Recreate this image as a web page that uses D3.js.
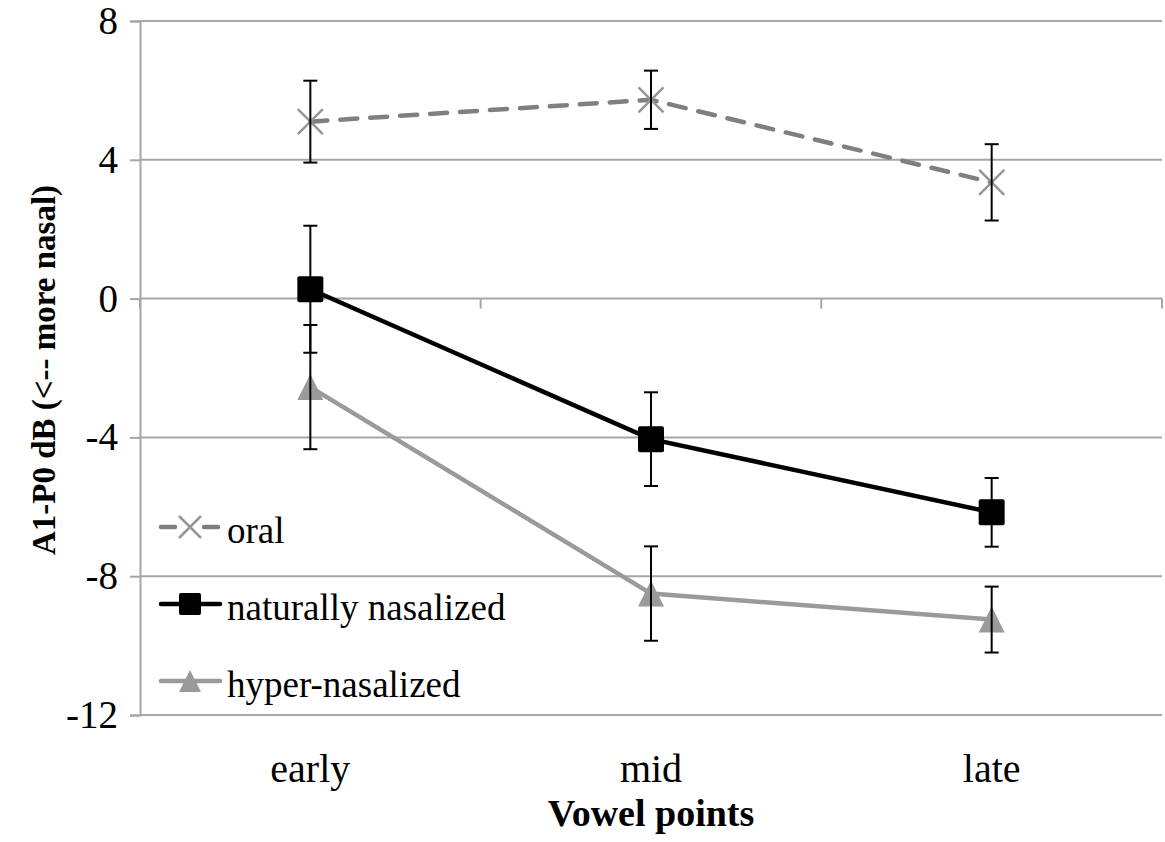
<!DOCTYPE html>
<html>
<head>
<meta charset="utf-8">
<script src="https://cdn.jsdelivr.net/npm/d3@7/dist/d3.min.js"></script>
<style>
  html, body { margin: 0; padding: 0; background: #fff; }
</style>
</head>
<body>
<svg id="chart" width="1165" height="842"></svg>
<script>
// Vowel time points along the x axis
const categories = ["early", "mid", "late"];

// Mean A1-P0 (dB) and error-bar half widths per series
const oralMeans = [5.1, 5.73, 3.35];
const oralErr = [1.18, 0.84, 1.1];
const naturalMeans = [0.27, -4.05, -6.16];
const naturalErr = [1.83, 1.35, 0.99];
const hyperMeans = [-2.55, -8.5, -9.25];
const hyperErr = [1.79, 1.36, 0.95];

const yTicks = [-12, -8, -4, 0, 4, 8];
const seriesNames = ["oral", "naturally nasalized", "hyper-nasalized"];

const series = [
  { name: seriesNames[0], means: oralMeans, err: oralErr, color: "#7f7f7f", markColor: "#969696", dash: "17,13", marker: "x" },
  { name: seriesNames[1], means: naturalMeans, err: naturalErr, color: "#000000", markColor: "#000000", dash: null, marker: "square" },
  { name: seriesNames[2], means: hyperMeans, err: hyperErr, color: "#9a9a9a", markColor: "#9a9a9a", dash: null, marker: "triangle" }
];

// Pick the first installed Times-like face
function pickFont(candidates) {
  const ctx = document.createElement("canvas").getContext("2d");
  const sample = "naturally nasalized WMiql 0123";
  const widthOf = f => { ctx.font = `40px ${f}`; return ctx.measureText(sample).width; };
  const baseMono = widthOf("monospace");
  for (const c of candidates) {
    if (Math.abs(widthOf(`'${c}', monospace`) - baseMono) > 0.5) return `'${c}'`;
  }
  return "serif";
}
const serif = pickFont(["Liberation Serif", "Times New Roman", "Tinos", "Nimbus Roman", "Nimbus Roman No9 L",
  "FreeSerif", "Noto Serif", "DejaVu Serif", "Georgia", "Liberation Sans Narrow"]);

const svg = d3.select("#chart").attr("font-family", serif);
const plotLeft = 140, plotRight = 1162, plotTop = 21, plotBottom = 715;
const gridColor = "#a6a6a6";

const x = d3.scaleBand().domain(categories).range([plotLeft, plotRight]);
const y = d3.scaleLinear().domain([-12, 8]).range([plotBottom, plotTop]);
const cx = c => x(c) + x.bandwidth() / 2;

// Horizontal gridlines
svg.append("g").selectAll("line").data(yTicks).join("line")
  .attr("x1", plotLeft).attr("x2", plotRight)
  .attr("y1", d => y(d)).attr("y2", d => y(d))
  .attr("stroke", gridColor).attr("stroke-width", 2);

// Vertical axis with outer ticks and labels
const yAxis = svg.append("g").attr("transform", `translate(${plotLeft},0)`)
  .call(d3.axisLeft(y).tickValues(yTicks).tickSize(10).tickPadding(12))
  .attr("font-family", serif);
yAxis.select(".domain").attr("stroke", gridColor).attr("stroke-width", 2);
yAxis.selectAll(".tick line").attr("stroke", gridColor).attr("stroke-width", 2);
yAxis.selectAll(".tick text").attr("font-size", 39).attr("fill", "#000")
  .text(d => d < 0 ? "-" + Math.abs(d) : String(d));

// Category axis crossing at zero, ticks between categories
const boundaries = categories.map(c => x(c)).concat([x(categories[categories.length - 1]) + x.bandwidth()]);
svg.append("g").selectAll("line").data(boundaries).join("line")
  .attr("x1", d => d).attr("x2", d => d)
  .attr("y1", y(0)).attr("y2", y(0) + 10)
  .attr("stroke", gridColor).attr("stroke-width", 2);

// Category labels below the plot
svg.append("g").selectAll("text").data(categories).join("text")
  .attr("x", d => cx(d)).attr("y", 782)
  .attr("text-anchor", "middle").attr("font-size", 40).text(d => d);

// Axis titles
svg.append("text").attr("x", (plotLeft + plotRight) / 2).attr("y", 826)
  .attr("text-anchor", "middle").attr("font-size", 38).attr("font-weight", "bold")
  .text("Vowel points");
svg.append("text")
  .attr("transform", `translate(55,${(plotTop + plotBottom) / 2 + 2}) rotate(-90)`)
  .attr("text-anchor", "middle").attr("font-size", 33).attr("font-weight", "bold")
  .text("A1-P0 dB (<-- more nasal)");

// Marker drawing helper
function drawMarker(g, type, color, size) {
  const h = size / 2;
  if (type === "square") {
    g.append("rect").attr("x", -h).attr("y", -h).attr("width", size).attr("height", size)
      .attr("fill", color).attr("rx", 2);
  } else if (type === "triangle") {
    g.append("path").attr("d", `M0,${-h} L${h},${h} L${-h},${h} Z`).attr("fill", color);
  } else {
    g.append("path").attr("d", `M${-h},${-h} L${h},${h} M${h},${-h} L${-h},${h}`)
      .attr("stroke", color).attr("stroke-width", 2.5).attr("fill", "none");
  }
}

const line = d3.line().x((d, i) => cx(categories[i])).y(d => y(d));

series.forEach(s => {
  const g = svg.append("g");
  // connecting line
  g.append("path").datum(s.means).attr("d", line)
    .attr("fill", "none").attr("stroke", s.color).attr("stroke-width", 4.5)
    .attr("stroke-dasharray", s.dash).attr("stroke-linecap", "round");
  // markers
  s.means.forEach((v, i) => {
    const m = g.append("g").attr("transform", `translate(${cx(categories[i])},${y(v)})`);
    drawMarker(m, s.marker, s.markColor, s.marker === "x" ? 25 : 26);
  });
});

// Error bars drawn over the markers
series.forEach(s => {
  const g = svg.append("g");
  s.means.forEach((v, i) => {
    const px = cx(categories[i]);
    const hi = y(v + s.err[i]), lo = y(v - s.err[i]);
    g.append("line").attr("x1", px).attr("x2", px).attr("y1", hi).attr("y2", lo)
      .attr("stroke", "#000").attr("stroke-width", 2);
    [hi, lo].forEach(yy => g.append("line").attr("x1", px - 7).attr("x2", px + 7)
      .attr("y1", yy).attr("y2", yy).attr("stroke", "#000").attr("stroke-width", 2));
  });
});

// Legend
const legendY = [527, 604, 681];
const legend = svg.append("g");
series.forEach((s, i) => {
  const g = legend.append("g").attr("transform", `translate(0,${legendY[i]})`);
  if (s.dash) {
    g.append("line").attr("x1", 161).attr("x2", 175).attr("y1", 0).attr("y2", 0)
      .attr("stroke", s.color).attr("stroke-width", 4.5).attr("stroke-linecap", "round");
    g.append("line").attr("x1", 204).attr("x2", 218).attr("y1", 0).attr("y2", 0)
      .attr("stroke", s.color).attr("stroke-width", 4.5).attr("stroke-linecap", "round");
  } else {
    g.append("line").attr("x1", 161).attr("x2", 220).attr("y1", 0).attr("y2", 0)
      .attr("stroke", s.color).attr("stroke-width", 4.5).attr("stroke-linecap", "round");
  }
  const m = g.append("g").attr("transform", "translate(190,0)");
  drawMarker(m, s.marker, s.markColor, 22);
  g.append("text").attr("x", 227).attr("y", 16).attr("font-size", 37).text(s.name);
});
</script>
</body>
</html>
